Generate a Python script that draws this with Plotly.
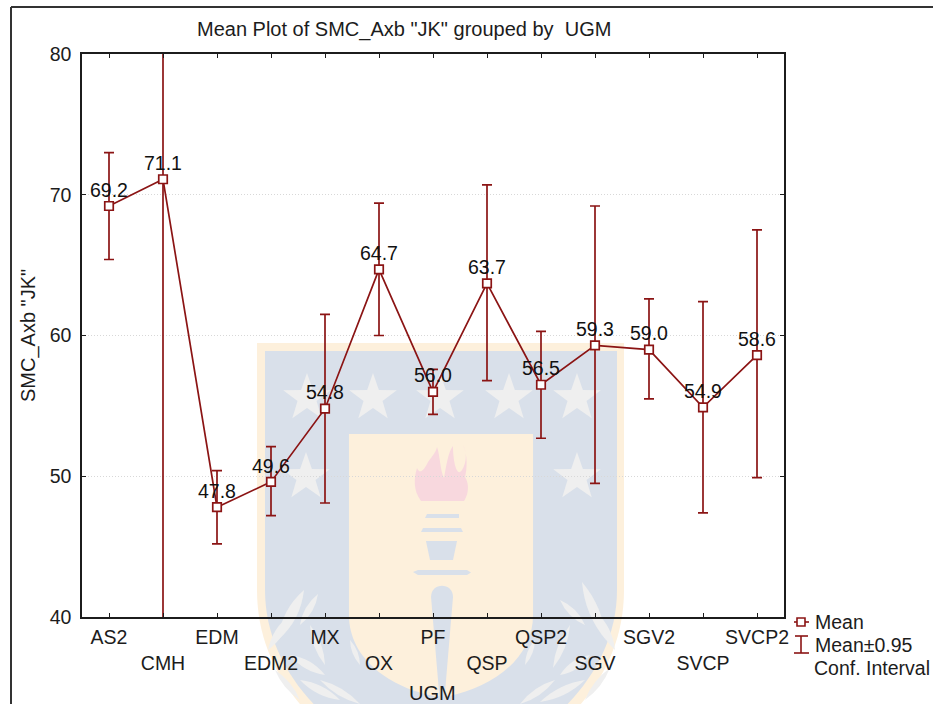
import math
import plotly.graph_objects as go

categories = ["AS2", "CMH", "EDM", "EDM2", "MX", "OX", "PF", "QSP", "QSP2", "SGV", "SGV2", "SVCP", "SVCP2"]
means = [69.2, 71.1, 47.8, 49.6, 54.8, 64.7, 56.0, 63.7, 56.5, 59.3, 59.0, 54.9, 58.6]
ci_upper = [73.0, 112.0, 50.4, 52.1, 61.5, 69.4, 57.6, 70.7, 60.3, 69.2, 62.6, 62.4, 67.5]
ci_lower = [65.4, 30.2, 45.2, 47.2, 48.1, 60.0, 54.4, 56.8, 52.7, 49.5, 55.5, 47.4, 49.9]
y_ticks = [40, 50, 60, 70, 80]

RED = "#8B1414"
INK = "#1c1c1c"
FONT = "Liberation Sans, Arial, sans-serif"
SIZE = 19.5

W, H = 933, 704
L, R, T, B = 82, 784, 54, 617


def px(x):
    return (x - L) / (R - L)


def py(y):
    return (B - y) / (B - T)


def path(cmds):
    """cmds: list of (letter, x1, y1, x2, y2, ...) in picture pixels"""
    out = []
    for c in cmds:
        if c[0] == "Z":
            out.append("Z")
            continue
        vals = c[1:]
        pts = []
        for i in range(0, len(vals), 2):
            pts.append(f"{px(vals[i]):.4f},{py(vals[i + 1]):.4f}")
        out.append(c[0] + " ".join(pts))
    return " ".join(out)


def fill_shape(cmds, color):
    return dict(type="path", xref="paper", yref="paper", path=path(cmds), fillcolor=color,
                line=dict(width=0), layer="below")


def star(cx, cy, r, color):
    pts = []
    for i in range(10):
        rr = r if i % 2 == 0 else r * 0.40
        a = -math.pi / 2 + i * math.pi / 5
        pts.append((cx + rr * math.cos(a), cy + rr * math.sin(a)))
    cmds = [("M", *pts[0])] + [("L", *p) for p in pts[1:]] + [("Z",)]
    return fill_shape(cmds, color)


def leaf(x0, y0, x1, y1, bulge, color):
    mx, my = (x0 + x1) / 2, (y0 + y1) / 2
    dx, dy = x1 - x0, y1 - y0
    n = (dx * dx + dy * dy) ** 0.5
    ox, oy = -dy / n * bulge, dx / n * bulge
    return fill_shape([("M", x0, y0), ("Q", mx + ox, my + oy, x1, y1),
                       ("Q", mx - ox, my - oy, x0, y0), ("Z",)], color)


CREAM = "#FDF0DC"
BLUE = "#D9E0EA"
GREY = "#EFEFEF"
PINK = "#F8D8DE"

shapes = []
# crest: outer and inner shield
shapes.append(fill_shape([("M", 257, 343), ("L", 624, 343), ("L", 624, 590),
                          ("C", 624, 690, 540, 760, 441, 790), ("C", 340, 760, 257, 690, 257, 590), ("Z",)], CREAM))
shapes.append(fill_shape([("M", 265, 351), ("L", 617, 351), ("L", 617, 590),
                          ("C", 617, 680, 535, 750, 441, 780), ("C", 345, 750, 265, 680, 265, 590), ("Z",)], BLUE))
# inner panel
shapes.append(fill_shape([("M", 349, 434), ("L", 533, 434), ("L", 533, 615),
                          ("C", 533, 660, 490, 688, 449, 696), ("L", 434, 696),
                          ("C", 392, 688, 349, 660, 349, 615), ("Z",)], CREAM))
# stars
for sx, sy in [(307, 398), (373, 398), (440, 398), (509, 398), (577, 398), (306, 477), (577, 477)]:
    shapes.append(star(sx, sy, 25, GREY))
# flame
shapes.append(fill_shape([("M", 421, 501), ("C", 413, 490, 414, 478, 417, 468), ("C", 420, 475, 424, 470, 428, 462),
                          ("C", 433, 455, 436, 452, 437, 447), ("C", 440, 455, 440, 470, 444, 478),
                          ("C", 446, 468, 448, 452, 453, 446), ("C", 453, 462, 457, 478, 462, 470),
                          ("C", 467, 462, 467, 452, 463, 445), ("C", 468, 455, 467, 470, 465, 477),
                          ("C", 470, 485, 468, 495, 464, 501), ("Z",)], PINK))
# torch
shapes.append(fill_shape([("M", 427, 514), ("L", 459, 514), ("L", 459, 518), ("L", 425, 518), ("Z",)], BLUE))
shapes.append(fill_shape([("M", 423, 528), ("L", 461, 528), ("L", 463, 532), ("L", 421, 532), ("Z",)], BLUE))
shapes.append(fill_shape([("M", 426, 541), ("L", 457, 541), ("L", 453, 560), ("L", 430, 560), ("Z",)], BLUE))
shapes.append(fill_shape([("M", 413, 572), ("L", 418, 570), ("L", 467, 570), ("L", 471, 572.5),
                          ("L", 467, 575), ("L", 418, 575), ("Z",)], BLUE))
shapes.append(fill_shape([("M", 431, 597), ("C", 431, 582, 453, 582, 453, 597),
                          ("L", 444, 704), ("L", 440, 704), ("Z",)], BLUE))
# laurel leaves
for a in [(278, 640, 304, 590, 11), (300, 625, 318, 594, 7), (268, 650, 290, 615, 8), (290, 655, 325, 675, 8),
          (310, 625, 325, 665, 7), (300, 680, 340, 700, 8), (320, 680, 360, 704, 7), (275, 670, 300, 700, 6),
          (606, 640, 582, 582, -10), (585, 625, 560, 600, -7), (615, 650, 596, 612, -8), (590, 655, 560, 675, -8),
          (570, 625, 553, 668, -7), (585, 680, 540, 702, -8), (555, 680, 520, 704, -7), (610, 668, 585, 700, -6),
          (525, 665, 535, 640, 5), (360, 665, 350, 640, 5)]:
    shapes.append(leaf(*a, GREY))

# outer frame
frame = dict(color="#333333", width=2)
shapes.append(dict(type="line", xref="paper", yref="paper", x0=px(11), x1=px(933), y0=py(7), y1=py(7), line=frame, layer="above"))
shapes.append(dict(type="line", xref="paper", yref="paper", x0=px(11), x1=px(11), y0=py(7), y1=py(704), line=frame, layer="above"))

# legend keys
key = dict(color=RED, width=1.6)
shapes += [
    dict(type="line", xref="paper", yref="paper", x0=px(794), x1=px(809), y0=py(622), y1=py(622), line=key),
    dict(type="rect", xref="paper", yref="paper", x0=px(797), x1=px(805), y0=py(618), y1=py(626), line=key, fillcolor="white"),
    dict(type="line", xref="paper", yref="paper", x0=px(801), x1=px(801), y0=py(636), y1=py(653), line=key),
    dict(type="line", xref="paper", yref="paper", x0=px(795), x1=px(808), y0=py(636), y1=py(636), line=key),
    dict(type="line", xref="paper", yref="paper", x0=px(794), x1=px(809), y0=py(653), y1=py(653), line=key),
]


def note(text, x, y, anchor="left", size=SIZE, angle=0):
    return dict(text=text, x=px(x), y=py(y), xref="paper", yref="paper", xanchor=anchor, yanchor="middle",
                showarrow=False, textangle=angle, font=dict(family=FONT, size=size, color=INK))


annotations = [
    note("Mean", 813, 622),
    note("Mean±0.95", 813, 645),
    note("Conf. Interval", 812, 668),
    note('Mean Plot of SMC_Axb "JK" grouped by\u00a0 UGM', 404, 30, "center", 20),
    note('SMC_Axb "JK"', 28, 336, "center", 20, -90),
    note("UGM", 432, 693, "center", 20),
]

errs_up = [u - m for u, m in zip(ci_upper, means)]
errs_dn = [m - l for l, m in zip(ci_lower, means)]

fig = go.Figure()
fig.add_trace(go.Scatter(
    x=categories, y=means, mode="lines+markers",
    line=dict(color=RED, width=1.7),
    marker=dict(symbol="square", size=8.5, color="white", line=dict(color=RED, width=1.7)),
    error_y=dict(type="data", symmetric=False, array=errs_up, arrayminus=errs_dn,
                 color=RED, thickness=1.7, width=5),
    showlegend=False,
))
fig.add_trace(go.Scatter(
    x=categories, y=means, mode="markers+text",
    marker=dict(size=5.6, opacity=0),
    text=[f"{m:.1f}" for m in means], textposition="top center",
    textfont=dict(family=FONT, size=SIZE, color="#111111"),
    cliponaxis=False, showlegend=False,
))

fig.update_layout(
    width=W, height=H, autosize=False,
    margin=dict(l=L, r=W - R, t=T, b=H - B, pad=0),
    paper_bgcolor="white", plot_bgcolor="rgba(0,0,0,0)",
    font=dict(family=FONT, size=SIZE, color=INK),
    shapes=shapes, annotations=annotations, showlegend=False,
    xaxis=dict(type="category", range=[-0.5, 12.5], tickmode="array", tickvals=categories,
               ticktext=[c if i % 2 == 0 else "<br>" + c for i, c in enumerate(categories)],
               tickangle=0, ticks="inside", ticklen=4, tickwidth=1, tickcolor=INK,
               showline=True, linecolor=INK, linewidth=1.5, mirror="ticks", showgrid=False,
               ticklabelstandoff=2,
               tickfont=dict(family=FONT, size=SIZE, color=INK), zeroline=False),
    yaxis=dict(range=[40, 80], tickmode="array", tickvals=y_ticks,
               ticks="inside", ticklen=4, tickwidth=1, tickcolor=INK,
               showline=True, linecolor=INK, linewidth=1.5, mirror="ticks",
               showgrid=True, gridcolor="#d8d8d8", griddash="1px,2px", gridwidth=1,
               ticklabelstandoff=5,
               tickfont=dict(family=FONT, size=SIZE, color=INK), zeroline=False),
)

fig.write_html("out.html", post_script="document.body.style.margin='0';", config={"displayModeBar": False})
